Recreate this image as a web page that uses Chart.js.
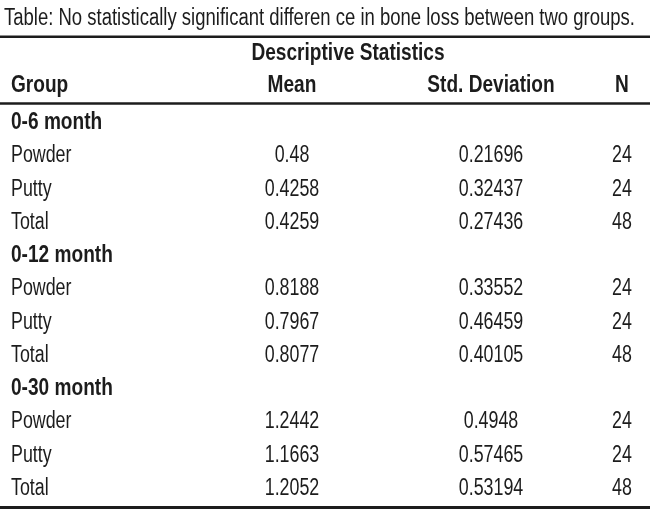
<!DOCTYPE html>
<html>
<head>
<meta charset="utf-8">
<script src="https://cdn.jsdelivr.net/npm/chart.js@4"></script>
<style>
  html, body { margin: 0; padding: 0; background: #fff; }
  #wrap { width: 650px; height: 522px; }
</style>
</head>
<body>
<div id="wrap"><canvas id="tableChart"></canvas></div>
<script>
const caption = 'Table: No statistically significant differen ce in bone loss between two groups.';
const heading = 'Descriptive Statistics';
const columns = ['Group', 'Mean', 'Std. Deviation', 'N'];
const periods = ['0-6 month', '0-12 month', '0-30 month'];
const groups = ['Powder', 'Putty', 'Total'];
const means = [[0.48, 0.4258, 0.4259], [0.8188, 0.7967, 0.8077], [1.2442, 1.1663, 1.2052]];
const stdDevs = [[0.21696, 0.32437, 0.27436], [0.33552, 0.46459, 0.40105], [0.4948, 0.57465, 0.53194]];
const counts = [[24, 24, 48], [24, 24, 48], [24, 24, 48]];

// layout (scale units): x is column anchor, y is row number
const colX = [11, 292, 491, 622];
const headingX = 348;
const headingRow = -2.07;
const headerRow = -1.11;
const rules = [{ y: -2.77, w: 2.5 }, { y: -0.77, w: 2.5 }, { y: 11.38, w: 3 }];
const FONT = "'Liberation Sans', Arial, sans-serif";
const INK = '#1c1c1c';
// no condensed face is installed, so squeeze the glyphs horizontally
const SQUEEZE = { normal: 0.775, bold: 0.83 };

// build the cells from the arrays
const cells = [];
cells.push({ x: headingX, y: headingRow, text: heading, bold: true, align: 'center' });
columns.forEach((c, i) => cells.push({ x: colX[i], y: headerRow, text: c, bold: true, align: i ? 'center' : 'left' }));
periods.forEach((p, pi) => {
  const base = pi * 4;
  cells.push({ x: colX[0], y: base, text: p, bold: true, align: 'left' });
  groups.forEach((g, gi) => {
    const r = base + 1 + gi;
    cells.push({ x: colX[0], y: r, text: g, align: 'left' });
    cells.push({ x: colX[1], y: r, text: String(means[pi][gi]), align: 'center' });
    cells.push({ x: colX[2], y: r, text: String(stdDevs[pi][gi]), align: 'center' });
    cells.push({ x: colX[3], y: r, text: String(counts[pi][gi]), align: 'center' });
  });
});

const tableText = {
  id: 'tableText',
  afterDatasetsDraw(chart) {
    const ctx = chart.ctx;
    const ys = chart.scales.y;
    ctx.save();
    ctx.strokeStyle = INK;
    rules.forEach(r => {
      const py = ys.getPixelForValue(r.y);
      ctx.lineWidth = r.w;
      ctx.beginPath();
      ctx.moveTo(0, py);
      ctx.lineTo(chart.width, py);
      ctx.stroke();
    });
    const meta = chart.getDatasetMeta(0);
    ctx.fillStyle = INK;
    ctx.textBaseline = 'alphabetic';
    meta.data.forEach((pt, i) => {
      const c = cells[i];
      ctx.save();
      ctx.font = (c.bold ? 'bold ' : '') + '23px ' + FONT;
      ctx.textAlign = c.align;
      ctx.translate(pt.x, pt.y);
      ctx.scale(c.bold ? SQUEEZE.bold : SQUEEZE.normal, 1);
      ctx.fillText(c.text, 0, 0);
      ctx.restore();
    });
    ctx.restore();
  }
};

new Chart(document.getElementById('tableChart'), {
  type: 'scatter',
  data: {
    datasets: [{
      data: cells.map(c => ({ x: c.x, y: c.y })),
      pointRadius: 0,
      pointHoverRadius: 0
    }]
  },
  options: {
    responsive: true,
    maintainAspectRatio: false,
    animation: false,
    events: [],
    layout: { padding: { left: 4, right: 15, top: 0, bottom: 0 } },
    plugins: {
      legend: { display: false },
      tooltip: { enabled: false },
      title: {
        display: true,
        text: caption,
        align: 'start',
        color: INK,
        font: { family: FONT, size: 23, weight: 'normal', lineHeight: 1.2 },
        padding: { top: 5, bottom: 0 }
      }
    },
    scales: {
      x: { type: 'linear', display: false, min: 4, max: 635 },
      y: { type: 'linear', display: false, reverse: true, min: -2.898, max: 11.813 }
    }
  },
  plugins: [tableText]
});
</script>
</body>
</html>
